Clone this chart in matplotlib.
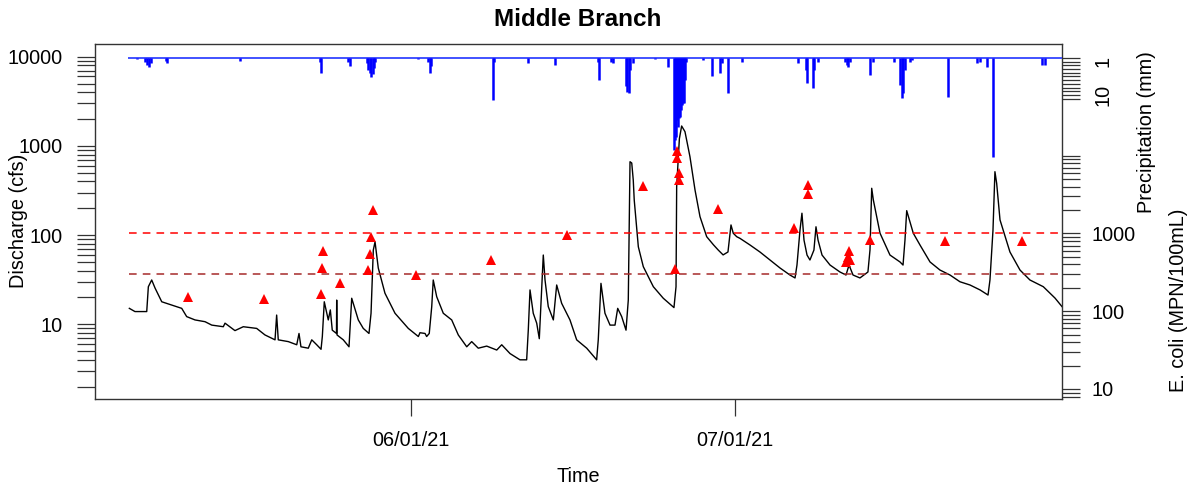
import matplotlib
matplotlib.use('Agg')
import matplotlib.pyplot as plt
import matplotlib.dates as mdates
from matplotlib.ticker import FixedLocator, NullFormatter, FuncFormatter
import pandas as pd

plt.rcParams['font.family'] = ['Liberation Sans', 'DejaVu Sans']

start = pd.Timestamp('2021-05-01')

# Discharge (cfs), time as days since 2021-05-01
q_days = [4.92, 5.44, 6.53, 6.68, 6.99, 7.30, 7.92, 9.77, 10.23, 11.00, 11.93, 12.55,
          13.62, 13.78, 14.70, 15.47, 16.71, 17.48, 18.41, 18.56, 18.71, 19.64, 20.42,
          20.63, 20.81, 21.49, 21.81, 22.27, 22.67, 22.79, 22.97, 23.34, 23.53, 23.71,
          24.10, 24.12, 24.15, 24.73, 25.26, 25.51, 26.12, 26.58, 27.11, 27.30, 27.51,
          27.67, 27.97, 28.59, 29.52, 30.75, 31.68, 31.83, 32.30, 32.45, 32.69, 32.92,
          33.06, 33.38, 33.99, 34.77, 35.38, 36.16, 36.62, 37.23, 38.01, 38.94, 39.40,
          40.17, 41.09, 41.71, 41.86, 42.02, 42.32, 42.64, 42.88, 43.04, 43.25, 43.41,
          43.71, 44.18, 44.49, 44.95, 45.72, 46.34, 47.27, 48.19, 48.34, 48.59, 48.96,
          49.43, 49.89, 50.14, 50.51, 50.91, 51.12, 51.28, 51.44, 51.58, 51.67, 52.05,
          52.51, 53.44, 54.36, 55.35, 55.54, 55.60, 55.85, 56.06, 56.37, 56.83, 57.30,
          57.76, 58.38, 59.00, 59.45, 59.90, 60.35, 60.63, 60.84, 61.16, 61.46, 62.39,
          63.31, 64.24, 65.17, 66.09, 66.56, 66.74, 67.02, 67.20, 67.39, 67.67, 67.94,
          68.31, 68.50, 68.69, 69.06, 69.80, 70.72, 71.28, 71.56, 71.93, 72.57, 73.31,
          73.50, 73.66, 73.81, 74.12, 74.43, 75.35, 76.28, 76.56, 76.74, 76.90, 77.51,
          78.13, 79.06, 79.98, 80.91, 81.83, 82.76, 83.69, 84.43, 84.61, 84.89, 85.07,
          85.23, 85.54, 86.46, 87.39, 88.31, 89.55, 90.17, 90.63, 91.28]
q_cfs = [15.1, 13.9, 13.9, 26.4, 31.4, 25.5, 17.9, 15.1, 12.2, 11.2, 10.7, 9.8,
         9.4, 10.3, 8.5, 9.4, 9.0, 7.6, 6.7, 12.7, 6.7, 6.4, 5.9,
         7.9, 5.6, 5.4, 6.7, 5.9, 5.25, 7.3, 17.9, 11.2, 14.5, 8.6,
         7.9, 18.7, 7.6, 6.7, 5.6, 19.6, 11.2, 9.0, 7.9, 13.3, 68,
         84, 42.8, 22.3, 13.3, 9.0, 7.3, 8.05, 7.9, 7.3, 7.9, 15.8,
         31.4, 20.4, 13.3, 11.2, 7.6, 5.6, 6.4, 5.4, 5.7, 5.15, 5.9,
         4.7, 4.0, 4.0, 8.6, 24.3, 13.3, 10.3, 6.9, 17.2, 59.8, 31.4,
         15.8, 11.2, 27.6, 17.2, 11.2, 6.7, 5.4, 4.0, 6.7, 28.8, 13.3,
         9.8, 9.8, 15.1, 12.2, 8.6, 18.7, 665, 643, 415, 248, 74,
         44.3, 26.4, 19.6, 15.4, 26.4, 349, 1200, 1672, 1443, 757, 320,
         161, 96, 78, 68, 60, 64.7, 130, 105, 96, 92, 77.5,
         64.7, 52.6, 42.8, 35.7, 33.1, 46.2, 114, 176, 88, 59.8, 52.6,
         68, 124, 88, 59.8, 46.2, 38.6, 35.7, 46.2, 35.7, 33.1, 38.6,
         68, 335, 248, 161, 105, 59.8, 50, 46.2, 88, 188, 105,
         77.5, 50, 40.6, 35.7, 30, 27.6, 24.3, 21.3, 31.4, 114, 514,
         381, 148, 64.7, 40.6, 31.4, 26.4, 22.3, 19.7, 15.8]

# E. coli samples (MPN/100mL)
ec_days = [10.38, 17.39, 22.69, 22.79, 22.82, 24.43, 27.05, 27.18, 27.30, 27.45,
           31.44, 38.41, 45.42, 52.45, 55.44, 55.66, 55.66, 55.81, 55.81, 59.45,
           66.49, 67.73, 67.79, 71.28, 71.46, 71.56, 71.65, 73.50, 80.44, 87.55]
ec_mpn = [154, 144, 165, 357, 596, 229, 339, 545, 910, 2006,
          293, 456, 957, 4119, 349, 11510, 9358, 6000, 4878, 2066,
          1167, 4205, 3193, 430, 499, 596, 456, 825, 801, 801]

# Precipitation (mm)
p_days = [4.80, 5.66, 6.37, 6.56, 6.74, 6.93, 8.27, 8.44, 15.17, 22.60, 22.69, 25.19,
          25.32, 26.90, 27.05, 27.18, 27.30, 27.45, 27.57, 27.69, 31.68, 32.60, 32.76,
          32.85, 38.62, 38.71, 41.86, 44.33, 48.31, 48.41, 49.49, 49.73, 50.91, 50.97,
          51.21, 51.28, 51.53, 53.59, 54.77, 55.35, 55.44, 55.54, 55.63, 55.75, 55.84,
          55.91, 56.00, 56.06, 56.14, 56.28, 56.37, 56.46, 58.06, 58.87, 59.61, 59.77,
          60.35, 61.62, 66.86, 67.57, 67.69, 68.25, 68.36, 68.71, 71.19, 71.35, 71.49,
          71.65, 73.50, 73.81, 75.72, 76.32, 76.44, 76.58, 76.74, 77.20, 77.36, 80.75,
          83.38, 83.69, 84.31, 84.92, 89.40, 89.70, 91.28]
p_mm = [0, 0.35, 1.1, 1.9, 2.35, 1.35, 0.7, 1.4, 0.7, 1.1, 4.0, 1.1,
        2.2, 1.4, 3.2, 4.1, 5.05, 4.3, 2.7, 1.1, 0.3, 1.1, 4.0,
        2.2, 11.35, 1.1, 1.4, 1.9, 1.1, 5.95, 1.0, 1.4, 7.6, 9.1,
        9.5, 3.2, 1.4, 0.35, 2.35, 24.9, 22.2, 21.3, 16.8, 18.6, 16.2,
        15.9, 14.1, 12.7, 12.2, 12.2, 5.9, 1.0, 0.55, 4.9, 4.1, 1.4,
        9.5, 1.0, 1.4, 3.2, 6.8, 8.2, 3.2, 1.0, 1.1, 1.9, 2.35,
        1.1, 4.6, 1.0, 1.0, 7.3, 10.9, 9.5, 3.2, 1.0, 0.55, 10.5,
        1.4, 1.0, 2.35, 26.7, 1.9, 1.9, 0]

ecoli_limits = [1000, 300]
limit_colors = ['red', '#A52A2A']

q_t = start + pd.to_timedelta(q_days, unit='D')
ec_t = start + pd.to_timedelta(ec_days, unit='D')
p_t = start + pd.to_timedelta(p_days, unit='D')

W, H = 1194, 486
fig = plt.figure(figsize=(W / 100, H / 100), dpi=100)
ax = fig.add_axes([95 / W, 1 - 399 / H, (1062 - 95) / W, (399 - 44) / H])

tick_kw = dict(length=13, width=0.9, color='#333333', labelsize=14.3, labelcolor='black')

# discharge (left axis)
ax.plot(q_t, q_cfs, color='black', lw=1.0)
ax.set_yscale('log')
ax.set_ylim(1.455, 13880)
ax.set_xlim(start + pd.Timedelta(days=1.74), start + pd.Timedelta(days=91.28))
ax.yaxis.set_major_locator(FixedLocator([10, 100, 1000, 10000]))
ax.yaxis.set_major_formatter(FuncFormatter(lambda v, p: f'{v:.0f}'))
ax.yaxis.set_minor_locator(FixedLocator([m * 10 ** e for e in range(0, 4) for m in range(2, 10)]))
ax.yaxis.set_minor_formatter(NullFormatter())
ax.tick_params(axis='y', which='both', pad=10, **tick_kw)
ax.set_xticks([pd.Timestamp('2021-06-01'), pd.Timestamp('2021-07-01')])
ax.xaxis.set_major_formatter(mdates.DateFormatter('%m/%d/%y'))
ax.tick_params(axis='x', pad=11, **{**tick_kw, 'length': 12})
for s in ax.spines.values():
    s.set_color('#333333')
    s.set_linewidth(1.0)

# precipitation (right axis, inverted, drawn under the samples)
axp = ax.twinx()
axp.hlines(0, p_t.min(), p_t.max(), color='#3344ff', lw=1.3)
axp.vlines(p_t, 0, p_mm, color='blue', lw=1.8)
axp.set_ylim(92.2, -3.78)
axp.yaxis.set_major_locator(FixedLocator([1, 10]))
axp.yaxis.set_minor_locator(FixedLocator([0, 2, 3, 4, 5, 6, 7, 8, 9, 11]))
axp.yaxis.set_minor_formatter(NullFormatter())
axp.tick_params(axis='y', which='both', pad=10, **tick_kw)
for lbl in axp.get_yticklabels():
    lbl.set_rotation(90)
    lbl.set_va('center')
for s in axp.spines.values():
    s.set_visible(False)

# E. coli (right axis)
axe = ax.twinx()
axe.hlines(ecoli_limits, q_t.min(), q_t.max(), colors=limit_colors,
           linestyles=(0, (5, 4)), lw=1.1)
axe.plot(ec_t, ec_mpn, '^', color='red', ms=7.5, mew=0, ls='none')
axe.set_yscale('log')
axe.set_ylim(7.43, 273600)
axe.yaxis.set_major_locator(FixedLocator([10, 100, 1000]))
axe.yaxis.set_major_formatter(FuncFormatter(lambda v, p: f'{v:.0f}'))
axe.yaxis.set_minor_locator(FixedLocator([8, 9] + [m * 10 ** e for e in range(1, 4) for m in range(2, 11)]))
axe.yaxis.set_minor_formatter(NullFormatter())
axe.tick_params(axis='y', which='both', pad=8, **tick_kw)
for s in axe.spines.values():
    s.set_visible(False)

fig.text(578 / W, 1 - 20 / H, 'Middle Branch', ha='center', va='center',
         fontsize=17.5, fontweight='bold')
fig.text(578 / W, 1 - 476 / H, 'Time', ha='center', va='center', fontsize=14.3)
fig.text(19 / W, 1 - 221 / H, 'Discharge (cfs)', ha='center', va='center',
         rotation=90, fontsize=14.3)
fig.text(1147 / W, 1 - 132 / H, 'Precipitation (mm)', ha='center', va='center',
         rotation=90, fontsize=14.3)
fig.text(1178 / W, 1 - 300 / H, 'E. coli (MPN/100mL)', ha='center', va='center',
         rotation=90, fontsize=14.3)

fig.savefig('out.png', dpi=100)
